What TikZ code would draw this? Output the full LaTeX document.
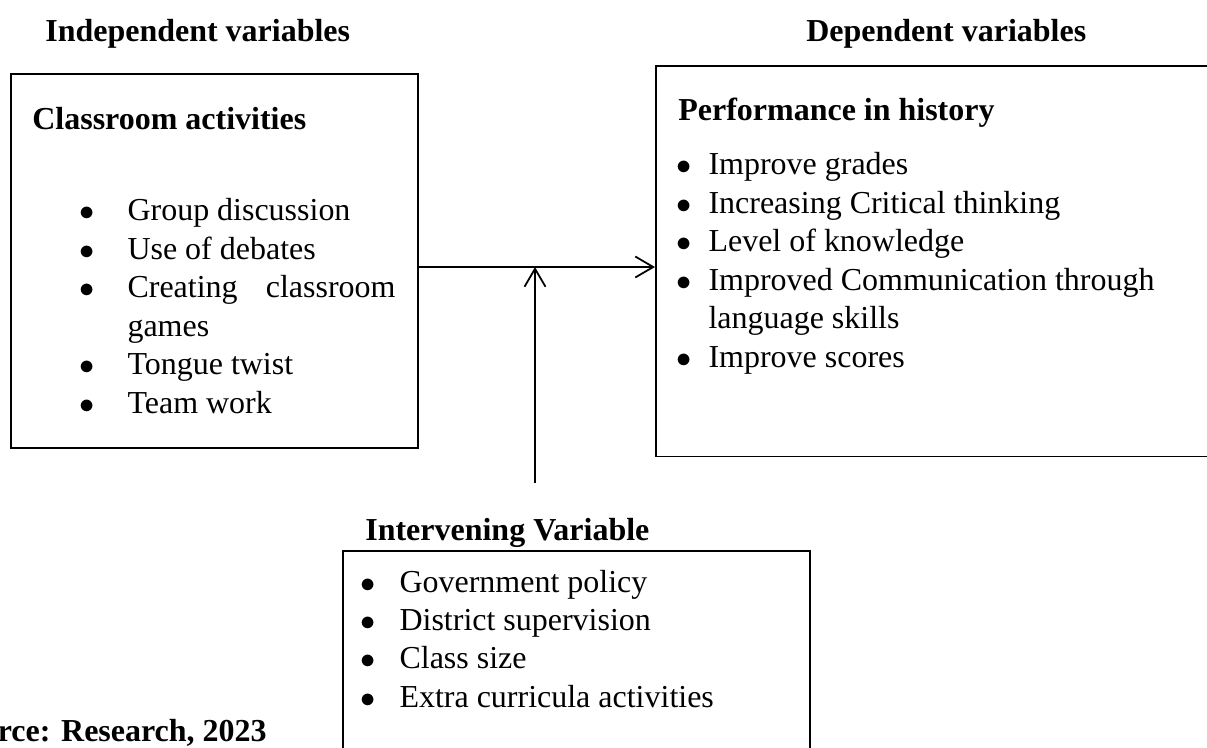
\documentclass[tikz,border=0pt]{standalone}
\usepackage{fontspec}
\setmainfont{Liberation Serif}
\usepackage{tikz}
\usetikzlibrary{arrows.meta,positioning}

\begin{document}
\begin{tikzpicture}[
  every node/.style={font=\fontsize{18.2pt}{21.9pt}\selectfont, inner sep=0pt},
  varbox/.style={rectangle, draw=black, line width=1.1pt, anchor=north west},
  heading/.style={font=\fontsize{18.2pt}{21.9pt}\selectfont\bfseries, anchor=base west},
  itemlist/.style={anchor=base west},
  arrow/.style={-{Straight Barb[length=3.6mm, width=4.2mm]}, line width=1pt}
]

% Page frame
\useasboundingbox (0,0) rectangle (24.14,14.94);
\clip (0,0) rectangle (24.14,14.94);

% Column titles
\node[heading] (indeptitle) at (0.90,14.11) {Independent variables};
\node[heading] (deptitle) at (16.12,14.11) {Dependent variables};

% Independent variables box
\node[varbox, minimum width=8.14cm, minimum height=7.48cm] (activities) at (0.20,13.486) {};
\node[heading] (activitiestitle) at (0.64,12.34) {Classroom activities};
\node[itemlist] (activitylist) at (1.586,10.526) {\begin{tabular}[t]{@{}l@{\hspace{0.654cm}}l@{}}
$\bullet$ & Group discussion\\
$\bullet$ & Use of debates\\
$\bullet$ & \makebox[5.36cm][l]{Creating\hfill classroom}\\
          & games\\
$\bullet$ & Tongue twist\\
$\bullet$ & Team work
\end{tabular}};

% Dependent variables box
\node[varbox, minimum width=11.6cm, minimum height=7.81cm] (performance) at (13.10,13.64) {};
\node[heading] (performancetitle) at (13.56,12.52) {Performance in history};
\node[itemlist] (performancelist) at (13.52,11.44) {\begin{tabular}[t]{@{}l@{\hspace{0.34cm}}l@{}}
$\bullet$ & Improve grades\\
$\bullet$ & Increasing Critical thinking\\
$\bullet$ & Level of knowledge\\
$\bullet$ & Improved Communication through\\
          & language skills\\
$\bullet$ & Improve scores
\end{tabular}};

% Intervening variable box
\node[heading] (interveningtitle) at (7.30,4.14) {Intervening Variable};
\node[varbox, minimum width=9.34cm, minimum height=4.4cm] (intervening) at (6.84,3.94) {};
\node[itemlist] (interveninglist) at (7.21,3.10) {\begin{tabular}[t]{@{}l@{\hspace{0.47cm}}l@{}}
$\bullet$ & Government policy\\
$\bullet$ & District supervision\\
$\bullet$ & Class size\\
$\bullet$ & Extra curricula activities
\end{tabular}};

% Source line
\node[heading, anchor=base east] (source) at (5.34,0.106) {Source: Research, 2023};

% Arrows
\coordinate (meet) at (10.70,9.60);
\coordinate (ivtail) at (10.70,5.28);
\draw[arrow] (meet -| activities.east) -- (meet -| performance.west);
\draw[arrow] (ivtail) -- (meet);

\end{tikzpicture}
\end{document}
